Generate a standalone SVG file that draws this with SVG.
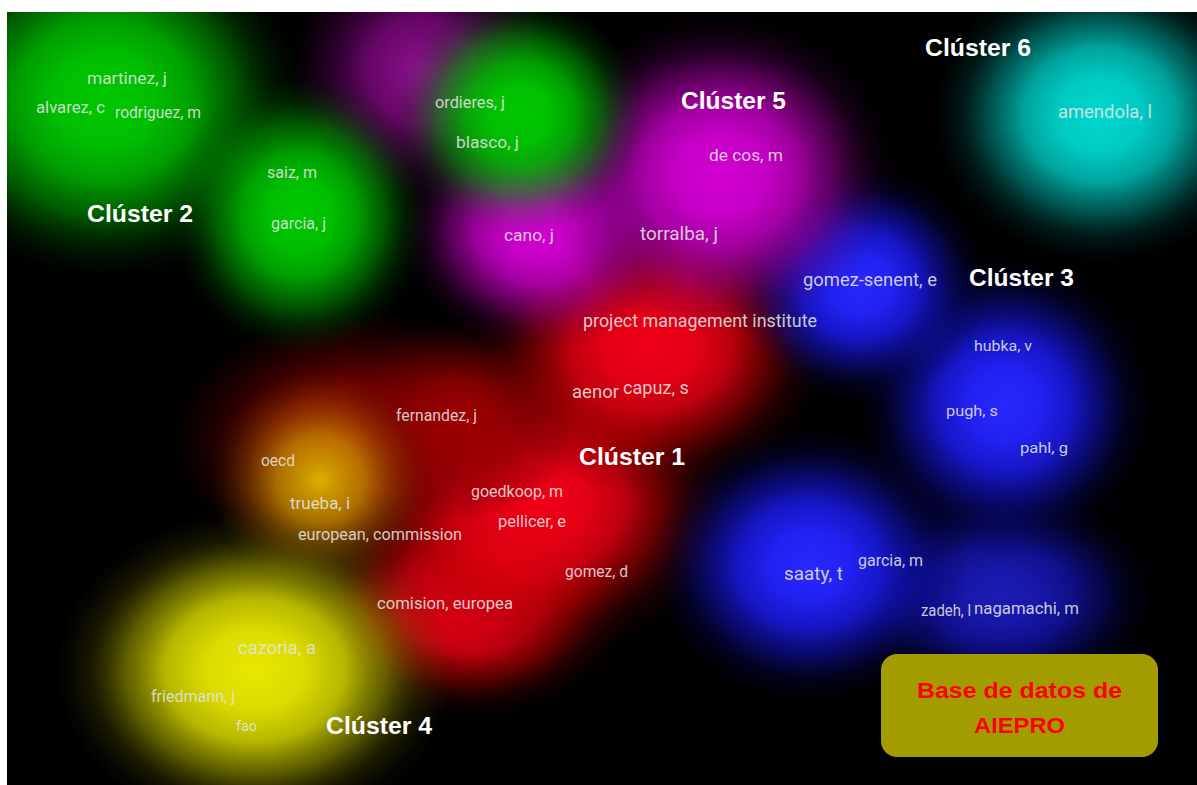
<svg xmlns="http://www.w3.org/2000/svg" width="1197" height="785" viewBox="0 0 1197 785">
<style>
.a{font-family:Roboto,"Liberation Sans",sans-serif;fill:#e4e4e4;fill-opacity:0.88}
.c{font-family:"Liberation Sans",Arial,sans-serif;font-weight:bold;fill:#ffffff;font-size:23px}
.b{font-family:"Liberation Sans",Arial,sans-serif;font-weight:bold;fill:#ff0000;font-size:22px}
</style>
<defs>
<clipPath id="clip"><rect x="7" y="12" width="1190" height="773"/></clipPath>
<radialGradient id="gG"><stop offset="0" stop-color="#00c800" stop-opacity="1"/><stop offset="0.25" stop-color="#00c400" stop-opacity="0.97"/><stop offset="0.45" stop-color="#00b800" stop-opacity="0.85"/><stop offset="0.65" stop-color="#00a000" stop-opacity="0.55"/><stop offset="0.82" stop-color="#007800" stop-opacity="0.22"/><stop offset="1" stop-color="#004000" stop-opacity="0"/></radialGradient>
<radialGradient id="gM"><stop offset="0" stop-color="#d200d2" stop-opacity="1"/><stop offset="0.25" stop-color="#cc00cc" stop-opacity="0.97"/><stop offset="0.45" stop-color="#bb00bb" stop-opacity="0.85"/><stop offset="0.65" stop-color="#9a009a" stop-opacity="0.55"/><stop offset="0.82" stop-color="#700070" stop-opacity="0.22"/><stop offset="1" stop-color="#400040" stop-opacity="0"/></radialGradient>
<radialGradient id="gP"><stop offset="0" stop-color="#901090" stop-opacity="1"/><stop offset="0.4" stop-color="#800880" stop-opacity="0.8"/><stop offset="0.7" stop-color="#600060" stop-opacity="0.4"/><stop offset="1" stop-color="#400040" stop-opacity="0"/></radialGradient>
<radialGradient id="gC"><stop offset="0" stop-color="#00d8d0" stop-opacity="1"/><stop offset="0.25" stop-color="#00d0c8" stop-opacity="0.97"/><stop offset="0.45" stop-color="#00c0b8" stop-opacity="0.85"/><stop offset="0.65" stop-color="#009890" stop-opacity="0.55"/><stop offset="0.82" stop-color="#006860" stop-opacity="0.22"/><stop offset="1" stop-color="#003030" stop-opacity="0"/></radialGradient>
<radialGradient id="gB"><stop offset="0" stop-color="#2828ff" stop-opacity="1"/><stop offset="0.25" stop-color="#2222f8" stop-opacity="0.97"/><stop offset="0.45" stop-color="#1a1ae8" stop-opacity="0.85"/><stop offset="0.65" stop-color="#1010b8" stop-opacity="0.55"/><stop offset="0.82" stop-color="#080880" stop-opacity="0.22"/><stop offset="1" stop-color="#000040" stop-opacity="0"/></radialGradient>
<radialGradient id="gR"><stop offset="0" stop-color="#f00018" stop-opacity="1"/><stop offset="0.25" stop-color="#ea0014" stop-opacity="0.97"/><stop offset="0.45" stop-color="#dd0010" stop-opacity="0.85"/><stop offset="0.65" stop-color="#b00000" stop-opacity="0.55"/><stop offset="0.82" stop-color="#780000" stop-opacity="0.22"/><stop offset="1" stop-color="#400000" stop-opacity="0"/></radialGradient>
<radialGradient id="gD"><stop offset="0" stop-color="#a00000" stop-opacity="1"/><stop offset="0.4" stop-color="#900000" stop-opacity="0.8"/><stop offset="0.7" stop-color="#700000" stop-opacity="0.4"/><stop offset="1" stop-color="#400000" stop-opacity="0"/></radialGradient>
<radialGradient id="gY"><stop offset="0" stop-color="#e8e800" stop-opacity="1"/><stop offset="0.25" stop-color="#e2e200" stop-opacity="0.97"/><stop offset="0.45" stop-color="#d6d600" stop-opacity="0.85"/><stop offset="0.65" stop-color="#aaaa00" stop-opacity="0.55"/><stop offset="0.82" stop-color="#707000" stop-opacity="0.22"/><stop offset="1" stop-color="#404000" stop-opacity="0"/></radialGradient>
<radialGradient id="gO"><stop offset="0" stop-color="#d8b000" stop-opacity="1"/><stop offset="0.4" stop-color="#c89000" stop-opacity="0.75"/><stop offset="0.7" stop-color="#a06000" stop-opacity="0.35"/><stop offset="1" stop-color="#603000" stop-opacity="0"/></radialGradient>
</defs>
<rect x="0" y="0" width="1197" height="785" fill="#ffffff"/>
<rect x="7" y="12" width="1190" height="773" fill="#000000"/>
<g id="density" clip-path="url(#clip)">
<ellipse cx="360" cy="440" rx="190" ry="130" fill="url(#gD)"/>
<ellipse cx="470" cy="600" rx="160" ry="120" fill="url(#gR)"/>
<ellipse cx="540" cy="500" rx="190" ry="160" fill="url(#gR)"/>
<ellipse cx="460" cy="420" rx="120" ry="100" fill="url(#gD)"/>
<ellipse cx="650" cy="345" rx="180" ry="150" fill="url(#gR)"/>
<ellipse cx="320" cy="480" rx="110" ry="110" fill="url(#gO)"/>
<ellipse cx="255" cy="670" rx="200" ry="160" fill="url(#gY)"/>
<ellipse cx="1000" cy="595" rx="160" ry="110" fill="url(#gB)" opacity="0.7"/>
<ellipse cx="810" cy="565" rx="160" ry="140" fill="url(#gB)"/>
<ellipse cx="1005" cy="405" rx="150" ry="150" fill="url(#gB)"/>
<ellipse cx="860" cy="285" rx="130" ry="120" fill="url(#gB)"/>
<ellipse cx="420" cy="70" rx="130" ry="130" fill="url(#gP)"/>
<ellipse cx="540" cy="230" rx="140" ry="120" fill="url(#gM)"/>
<ellipse cx="720" cy="175" rx="175" ry="160" fill="url(#gM)"/>
<ellipse cx="520" cy="115" rx="125" ry="120" fill="url(#gG)"/>
<ellipse cx="105" cy="100" rx="200" ry="180" fill="url(#gG)"/>
<ellipse cx="300" cy="215" rx="130" ry="140" fill="url(#gG)"/>
<ellipse cx="1100" cy="115" rx="170" ry="150" fill="url(#gC)"/>
</g>
<g id="cluster2">
<text class="a" x="87" y="84" font-size="16" textLength="80" lengthAdjust="spacingAndGlyphs">martinez, j</text>
<text class="a" x="36" y="113" font-size="16" textLength="69" lengthAdjust="spacingAndGlyphs">alvarez, c</text>
<text class="a" x="115" y="118" font-size="16" textLength="86" lengthAdjust="spacingAndGlyphs">rodriguez, m</text>
<text class="a" x="267" y="178" font-size="16" textLength="50" lengthAdjust="spacingAndGlyphs">saiz, m</text>
<text class="a" x="271" y="229" font-size="16" textLength="55" lengthAdjust="spacingAndGlyphs">garcia, j</text>
<text class="c" x="87" y="222" textLength="106" lengthAdjust="spacingAndGlyphs">Clúster 2</text>
</g>
<g id="cluster5">
<text class="a" x="435" y="108" font-size="16" textLength="70" lengthAdjust="spacingAndGlyphs">ordieres, j</text>
<text class="a" x="456" y="148" font-size="16" textLength="63" lengthAdjust="spacingAndGlyphs">blasco, j</text>
<text class="a" x="709" y="161" font-size="16" textLength="74" lengthAdjust="spacingAndGlyphs">de cos, m</text>
<text class="a" x="504" y="241" font-size="16" textLength="50" lengthAdjust="spacingAndGlyphs">cano, j</text>
<text class="a" x="640" y="240" font-size="18" textLength="78" lengthAdjust="spacingAndGlyphs">torralba, j</text>
<text class="c" x="681" y="109" textLength="105" lengthAdjust="spacingAndGlyphs">Clúster 5</text>
</g>
<g id="cluster6">
<text class="a" x="1058" y="118" font-size="18" textLength="94" lengthAdjust="spacingAndGlyphs">amendola, l</text>
<text class="c" x="925" y="56" textLength="106" lengthAdjust="spacingAndGlyphs">Clúster 6</text>
</g>
<g id="cluster3">
<text class="a" x="803" y="286" font-size="18" textLength="134" lengthAdjust="spacingAndGlyphs">gomez-senent, e</text>
<text class="a" x="974" y="351" font-size="15" textLength="58" lengthAdjust="spacingAndGlyphs">hubka, v</text>
<text class="a" x="946" y="416" font-size="15" textLength="52" lengthAdjust="spacingAndGlyphs">pugh, s</text>
<text class="a" x="1020" y="453" font-size="15" textLength="48" lengthAdjust="spacingAndGlyphs">pahl, g</text>
<text class="a" x="784" y="580" font-size="18" textLength="59" lengthAdjust="spacingAndGlyphs">saaty, t</text>
<text class="a" x="858" y="566" font-size="16" textLength="65" lengthAdjust="spacingAndGlyphs">garcia, m</text>
<text class="a" x="921" y="616" font-size="16" textLength="50" lengthAdjust="spacingAndGlyphs">zadeh, l</text>
<text class="a" x="974" y="614" font-size="16" textLength="105" lengthAdjust="spacingAndGlyphs">nagamachi, m</text>
<text class="c" x="969" y="286" textLength="105" lengthAdjust="spacingAndGlyphs">Clúster 3</text>
</g>
<g id="cluster1">
<text class="a" x="583" y="327" font-size="18" textLength="234" lengthAdjust="spacingAndGlyphs">project management institute</text>
<text class="a" x="572" y="398" font-size="18" textLength="47" lengthAdjust="spacingAndGlyphs">aenor</text>
<text class="a" x="623" y="394" font-size="18" textLength="66" lengthAdjust="spacingAndGlyphs">capuz, s</text>
<text class="a" x="396" y="421" font-size="16" textLength="81" lengthAdjust="spacingAndGlyphs">fernandez, j</text>
<text class="a" x="471" y="497" font-size="16" textLength="92" lengthAdjust="spacingAndGlyphs">goedkoop, m</text>
<text class="a" x="498" y="527" font-size="16" textLength="68" lengthAdjust="spacingAndGlyphs">pellicer, e</text>
<text class="a" x="298" y="540" font-size="16" textLength="164" lengthAdjust="spacingAndGlyphs">european, commission</text>
<text class="a" x="565" y="577" font-size="16" textLength="63" lengthAdjust="spacingAndGlyphs">gomez, d</text>
<text class="a" x="377" y="609" font-size="16" textLength="136" lengthAdjust="spacingAndGlyphs">comision, europea</text>
<text class="c" x="579" y="465" textLength="106" lengthAdjust="spacingAndGlyphs">Clúster 1</text>
</g>
<g id="cluster4">
<text class="a" x="261" y="466" font-size="16" textLength="34" lengthAdjust="spacingAndGlyphs">oecd</text>
<text class="a" x="290" y="509" font-size="16" textLength="60" lengthAdjust="spacingAndGlyphs">trueba, i</text>
<text class="a" x="238" y="654" font-size="18" textLength="78" lengthAdjust="spacingAndGlyphs">cazoria, a</text>
<text class="a" x="151" y="702" font-size="16" textLength="84" lengthAdjust="spacingAndGlyphs">friedmann, j</text>
<text class="a" x="236" y="731" font-size="15" textLength="21" lengthAdjust="spacingAndGlyphs">fao</text>
<text class="c" x="326" y="734" textLength="106" lengthAdjust="spacingAndGlyphs">Clúster 4</text>
</g>
<g id="source-box">
<rect x="881" y="654" width="277" height="103" rx="16" ry="16" fill="#a39c00"/>
<text class="b" x="917" y="698" textLength="205" lengthAdjust="spacingAndGlyphs">Base de datos de</text>
<text class="b" x="974" y="733" textLength="91" lengthAdjust="spacingAndGlyphs">AIEPRO</text>
</g>
</svg>
